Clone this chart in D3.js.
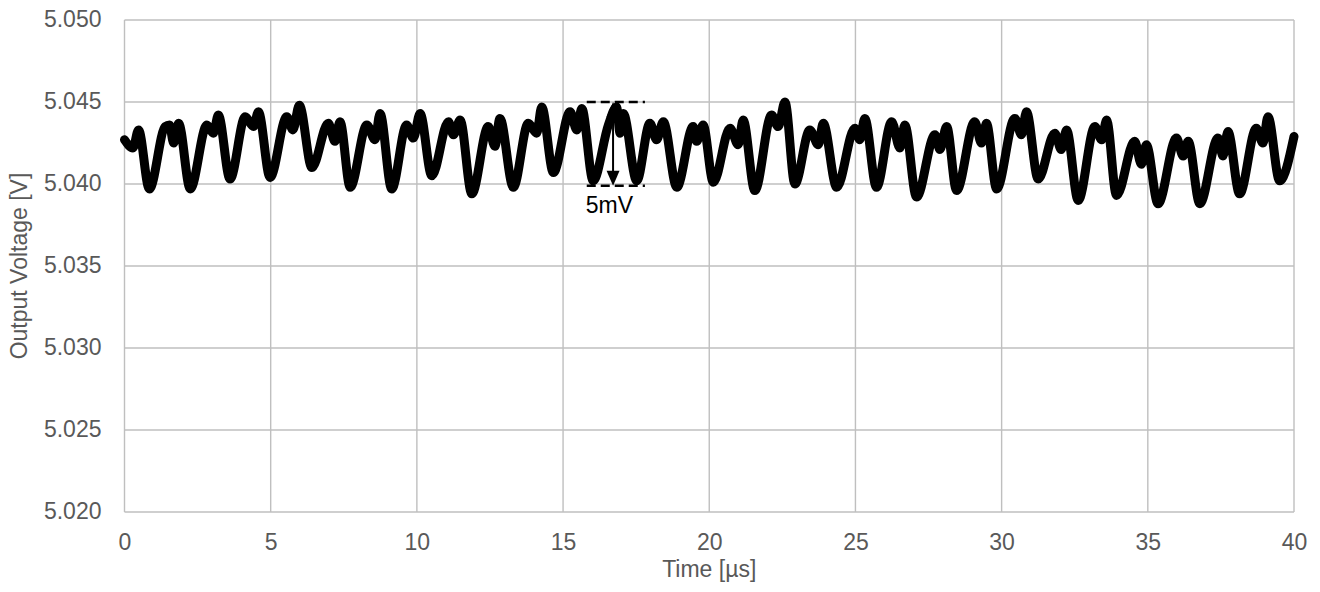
<!DOCTYPE html>
<html>
<head>
<meta charset="utf-8">
<script src="https://cdn.jsdelivr.net/npm/d3@7/dist/d3.min.js"></script>
<style>
  html, body { margin: 0; padding: 0; background: #ffffff; }
  svg { display: block; }
  text { font-family: "Liberation Sans", Arial, sans-serif; }
</style>
</head>
<body>
<svg id="chart" width="1320" height="592"></svg>
<script>
// ---- data ----
const timeUs = [
  0.00, 0.29, 0.48, 0.85, 1.39, 1.54, 1.68, 1.85, 2.25, 2.82, 3.04, 3.21, 3.61, 4.13, 4.41, 4.58,
  4.98, 5.55, 5.76, 5.98, 6.41, 6.97, 7.20, 7.37, 7.72, 8.29, 8.57, 8.74, 9.14, 9.65, 9.88, 10.11,
  10.51, 11.08, 11.25, 11.48, 11.88, 12.44, 12.67, 12.84, 13.30, 13.81, 14.10, 14.27, 14.67, 15.24,
  15.47, 15.64, 16.03, 16.55, 16.83, 16.95, 17.06, 17.52, 17.97, 18.20, 18.43, 18.89, 19.45, 19.57,
  19.79, 20.14, 20.71, 20.99, 21.16, 21.56, 22.13, 22.36, 22.59, 22.93, 23.44, 23.73, 23.90, 24.36,
  24.98, 25.15, 25.32, 25.72, 26.24, 26.52, 26.69, 27.09, 27.72, 27.89, 28.12, 28.46, 29.08, 29.31,
  29.48, 29.83, 30.45, 30.68, 30.85, 31.25, 31.82, 32.04, 32.22, 32.62, 33.19, 33.42, 33.59, 33.93,
  34.55, 34.78, 34.95, 35.35, 35.98, 36.21, 36.38, 36.78, 37.40, 37.57, 37.74, 38.14, 38.71, 38.94,
  39.11, 39.51, 40.00
];
const outputVoltage = [
  5.0427, 5.0422, 5.0433, 5.0397, 5.0435, 5.0436, 5.0425, 5.0437, 5.0397, 5.0436, 5.0431, 5.0442, 5.0403, 5.0441, 5.0435, 5.0444,
  5.0404, 5.0441, 5.0433, 5.0448, 5.0410, 5.0437, 5.0426, 5.0438, 5.0398, 5.0436, 5.0427, 5.0443, 5.0397, 5.0436, 5.0428, 5.0443,
  5.0405, 5.0438, 5.0430, 5.0439, 5.0394, 5.0435, 5.0423, 5.0440, 5.0398, 5.0437, 5.0431, 5.0447, 5.0407, 5.0444,
  5.0433, 5.0446, 5.0402, 5.0436, 5.0447, 5.0431, 5.0443, 5.0402, 5.0437, 5.0427, 5.0438, 5.0398, 5.0435, 5.0426,
  5.0436, 5.0401, 5.0434, 5.0424, 5.0439, 5.0396, 5.0442, 5.0435, 5.0450, 5.0400, 5.0433, 5.0424, 5.0437, 5.0398,
  5.0434, 5.0427, 5.0440, 5.0398, 5.0438, 5.0422, 5.0436, 5.0392, 5.0430, 5.0421, 5.0435, 5.0396, 5.0438, 5.0425,
  5.0437, 5.0397, 5.0440, 5.0430, 5.0444, 5.0403, 5.0431, 5.0421, 5.0433, 5.0390, 5.0435, 5.0427, 5.0439, 5.0393,
  5.0426, 5.0412, 5.0424, 5.0388, 5.0428, 5.0417, 5.0426, 5.0388, 5.0428, 5.0417, 5.0432, 5.0394, 5.0434, 5.0425,
  5.0441, 5.0402, 5.0429
];
const xTicks = [0, 5, 10, 15, 20, 25, 30, 35, 40];
const yTicks = [5.020, 5.025, 5.030, 5.035, 5.040, 5.045, 5.050];
const xTitle = "Time [µs]";
const yTitle = "Output Voltage [V]";
// annotation (ripple span)
const rippleHigh = 5.0450;
const rippleLow = 5.0399;
const rippleSpanT = [15.81, 17.80];
const rippleArrowT = 16.71;
const rippleLabel = "5mV";

// ---- layout ----
const margin = { left: 124.5, right: 26, top: 20, bottom: 80 };
const W = 1320, H = 592;
const svg = d3.select("#chart");

const x = d3.scaleLinear().domain([0, 40]).range([margin.left, W - margin.right]);
const y = d3.scaleLinear().domain([5.020, 5.050]).range([H - margin.bottom, margin.top]);

const gridColor = "#bfbfbf";
const textColor = "#595959";

// gridlines
const grid = svg.append("g");
grid.selectAll("line.h").data(yTicks).join("line")
  .attr("x1", x(0)).attr("x2", x(40))
  .attr("y1", d => y(d)).attr("y2", d => y(d))
  .attr("stroke", gridColor).attr("stroke-width", 1.4);
grid.selectAll("line.v").data(xTicks).join("line")
  .attr("x1", d => x(d)).attr("x2", d => x(d))
  .attr("y1", y(5.020)).attr("y2", y(5.050))
  .attr("stroke", gridColor).attr("stroke-width", 1.4);

// axes labels via d3 axes
const xAxis = d3.axisBottom(x).tickValues(xTicks).tickSize(0).tickPadding(22).tickFormat(d3.format("d"));
const gx = svg.append("g").attr("transform", `translate(0,${y(5.020)})`).call(xAxis);
gx.select(".domain").remove();
gx.selectAll("text").attr("font-size", 23).attr("fill", textColor)
  .attr("font-family", "'Liberation Sans', Arial, sans-serif");

const yAxis = d3.axisLeft(y).tickValues(yTicks).tickSize(0).tickPadding(23).tickFormat(d3.format(".3f"));
const gy = svg.append("g").attr("transform", `translate(${x(0)},0)`).call(yAxis);
gy.select(".domain").remove();
gy.selectAll("text").attr("font-size", 23).attr("fill", textColor)
  .attr("font-family", "'Liberation Sans', Arial, sans-serif").attr("dy", "0.28em");

// titles
svg.append("text")
  .attr("x", (x(0) + x(40)) / 2).attr("y", 577)
  .attr("text-anchor", "middle").attr("font-size", 23).attr("fill", textColor)
  .text(xTitle);
svg.append("text")
  .attr("transform", `translate(27,${(y(5.020) + y(5.050)) / 2}) rotate(-90)`)
  .attr("text-anchor", "middle").attr("font-size", 23).attr("fill", textColor)
  .text(yTitle);

// waveform
const pts = timeUs.map((t, i) => [t, outputVoltage[i]]);
const line = d3.line().x(d => x(d[0])).y(d => y(d[1])).curve(d3.curveMonotoneX);
svg.append("path").datum(pts)
  .attr("d", line)
  .attr("fill", "none").attr("stroke", "#000").attr("stroke-width", 9)
  .attr("stroke-linejoin", "round").attr("stroke-linecap", "round");

// annotation
const ann = svg.append("g");
[rippleHigh, rippleLow].forEach(v => {
  ann.append("line")
    .attr("x1", x(rippleSpanT[0])).attr("x2", x(rippleSpanT[1]))
    .attr("y1", y(v)).attr("y2", y(v))
    .attr("stroke", "#000").attr("stroke-width", 2.5).attr("stroke-dasharray", "9,5");
});
const ax = x(rippleArrowT), yTop = y(rippleHigh), yBot = y(rippleLow);
const headL = 15, headW = 6.5;
ann.append("line").attr("x1", ax).attr("x2", ax).attr("y1", yTop + headL - 2).attr("y2", yBot - headL + 2)
  .attr("stroke", "#000").attr("stroke-width", 2);
ann.append("path").attr("d", `M${ax},${yTop} L${ax - headW},${yTop + headL} L${ax + headW},${yTop + headL} Z`).attr("fill", "#000");
ann.append("path").attr("d", `M${ax},${yBot} L${ax - headW},${yBot - headL} L${ax + headW},${yBot - headL} Z`).attr("fill", "#000");
ann.append("text")
  .attr("x", x(rippleSpanT[0]) - 1).attr("y", yBot + 27)
  .attr("font-size", 23).attr("fill", "#000")
  .text(rippleLabel);
</script>
</body>
</html>
